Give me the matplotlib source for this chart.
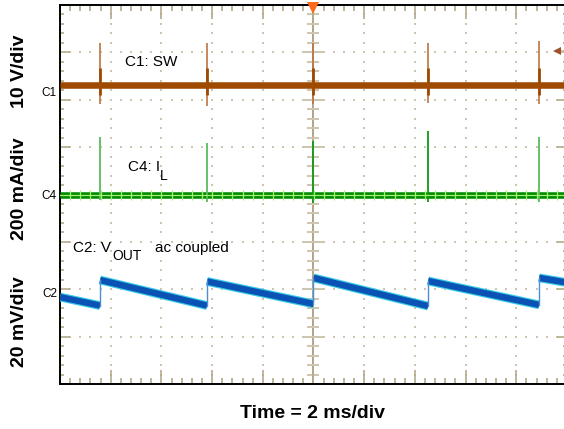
import matplotlib.pyplot as plt
import numpy as np

plt.rcParams['font.family'] = ['Liberation Sans', 'DejaVu Sans']

# time base 2 ms/div, trigger at centre; times in ms
sw_spike_t = [-8.42, -4.20, 0.0, 4.52, 8.90]
sw_peak_v = [8.9, 8.9, 8.9, 8.9, 9.3]
sw_dip_v = [-4.0, -4.4, -4.0, -3.8, -4.0]
trig_level_v = 7.2

il_spike_t = [-8.42, -4.20, 0.0, 4.52, 8.90]
il_peak_ma = [243, 217, 226, 268, 243]
il_dip_ma = [-25, -30, -35, -30, -30]

# ac coupled output ripple, (ramp start, ramp end) pairs
vout_t = [-10.0, -8.42, -8.42, -4.20, -4.20, 0.0, 0.0, 4.52, 4.52, 8.90, 8.90, 10.0]
vout_mv = [-1.3, -4.9, 5.9, -4.9, 5.3, -4.2, 6.8, -5.1, 5.5, -4.6, 6.8, 4.8]

# channel scale (unit/div) and screen offset (div)
sw_scale, sw_off = 10.0, 2.31
il_scale, il_off = 200.0, 0.0
vo_scale, vo_off = 20.0, -2.10

grid_c = '#cdc5ad'
tick_c = '#b3a98b'

fig = plt.figure(figsize=(5.64, 4.29), dpi=100)
ax = fig.add_axes([60 / 564, 45 / 429, 507 / 564, 379 / 429])
ax.set_xlim(-10, 10)
ax.set_ylim(-4, 4)

ax.set_xticks(np.arange(-10, 10.01, 2))
ax.set_xticks(np.arange(-10, 10.01, 0.4), minor=True)
ax.set_yticks(np.arange(-4, 4.01, 1))
ax.set_yticks(np.arange(-4, 4.01, 0.2), minor=True)
ax.tick_params(which='both', direction='in', top=True, right=True,
               labelbottom=False, labelleft=False, color=tick_c, width=1.2)
ax.tick_params(axis='x', which='major', length=10)
ax.tick_params(axis='x', which='minor', length=4)
ax.tick_params(axis='y', which='major', length=7)
ax.tick_params(axis='y', which='minor', length=3)
for s in ['top', 'bottom', 'left']:
    ax.spines[s].set_linewidth(1.4)
ax.spines['right'].set_visible(False)

# dotted graticule
ymin = np.arange(-3.8, 3.81, 0.2)
xmin = np.arange(-9.6, 9.61, 0.4)
for gx in [-8, -6, -4, -2, 2, 4, 6, 8]:
    ax.plot(np.full(len(ymin), gx), ymin, ls='none', marker='s', ms=1.5,
            mew=0, color=grid_c, zorder=1)
for gy in [-3, -2, -1, 1, 2, 3]:
    ax.plot(xmin, np.full(len(xmin), gy), ls='none', marker='s', ms=1.5,
            mew=0, color=grid_c, zorder=1)

# centre crosshair
ax.axvline(0, color='#a39577', lw=1.2, zorder=1)
ax.plot(np.zeros(len(ymin)), ymin, ls='none', marker='_', ms=9, mew=1.4,
        color=grid_c, zorder=1)
ax.plot(np.zeros(7), np.arange(-3, 3.1, 1), ls='none', marker='_', ms=15,
        mew=1.4, color=grid_c, zorder=1)

# C1: SW
ax.plot([-10, 10], [sw_off, sw_off], color='#9e4a00', lw=4.7, zorder=3,
        solid_capstyle='butt')
ax.vlines(sw_spike_t, [sw_off + d / sw_scale for d in sw_dip_v],
          [sw_off + p / sw_scale for p in sw_peak_v],
          color='#bb7440', lw=1.2, zorder=3)
ax.vlines(sw_spike_t, sw_off - 0.2, sw_off + 0.35, color='#9e4a00', lw=2,
          zorder=3)

# C4: IL
ax.plot([-10, 10], [il_off, il_off], color='#008a00', lw=4.7, zorder=3,
        solid_capstyle='butt')
il_cols = ['#5cbb5c', '#5cbb5c', '#119911', '#119911', '#5cbb5c']
ax.vlines(il_spike_t, [il_off + d / il_scale for d in il_dip_ma],
          [il_off + p / il_scale for p in il_peak_ma],
          colors=il_cols, lw=1.3, zorder=3)
ax.axhline(0, color='#a2f070', lw=0.9, zorder=4)
ax.plot(xmin, np.zeros(len(xmin)), ls='none', marker='|', ms=7, mew=0.9,
        color='#a2f070', zorder=4)

# C2: VOUT
vy = [vo_off + v / vo_scale for v in vout_mv]
for i in range(0, len(vout_t) - 1, 2):
    ax.plot(vout_t[i:i + 2], vy[i:i + 2], color='#3ccbe6', lw=6.3, zorder=3,
            solid_capstyle='butt')
    ax.plot(vout_t[i:i + 2], vy[i:i + 2], color='#0a52b4', lw=4.6, zorder=3,
            solid_capstyle='butt')
for i in range(1, len(vout_t) - 1, 2):
    ax.plot(vout_t[i:i + 2], vy[i:i + 2], color='#4a8fd2', lw=1, zorder=3)

# trigger markers
ax.plot(0, 3.93, marker='v', ms=8, color='#ff6a1a', mew=0, clip_on=False,
        zorder=6)
ax.plot([9.7, 10], [sw_off + trig_level_v / sw_scale] * 2, color='#cbbba0',
        lw=2, zorder=5)
ax.plot(9.6, sw_off + trig_level_v / sw_scale, marker='<', ms=6,
        color='#a0522d', mew=0, zorder=6)

# trace annotations
ax.text(-7.44, 2.80, 'C1: SW', fontsize=11, va='center')
ax.text(-7.32, 0.57, 'C4: I', fontsize=11, va='center')
ax.text(-6.06, 0.40, 'L', fontsize=10, va='center')
ax.text(-9.49, -1.12, 'C2: V', fontsize=11, va='center')
ax.text(-7.93, -1.30, 'OUT', fontsize=10, va='center')
ax.text(-6.26, -1.12, 'ac coupled', fontsize=11, va='center')

# channel markers
fig.text(56 / 564, 1 - 93 / 429, 'C1', fontsize=8.5, ha='right', va='center')
fig.text(57 / 564, 1 - 196 / 429, 'C4', fontsize=8.5, ha='right', va='center')
fig.text(57 / 564, 1 - 294 / 429, 'C2', fontsize=8.5, ha='right', va='center')

# scale labels
fig.text(20 / 564, 1 - 71 / 429, '10 V/div', rotation=90, fontsize=14,
         fontweight='bold', ha='center', va='center')
fig.text(20 / 564, 1 - 189 / 429, '200 mA/div', rotation=90, fontsize=14,
         fontweight='bold', ha='center', va='center')
fig.text(20 / 564, 1 - 322 / 429, '20 mV/div', rotation=90, fontsize=14,
         fontweight='bold', ha='center', va='center')
fig.text(312 / 564, 1 - 414 / 429, 'Time = 2 ms/div', fontsize=14,
         fontweight='bold', ha='center', va='center')

fig.savefig('out.png', dpi=100)
